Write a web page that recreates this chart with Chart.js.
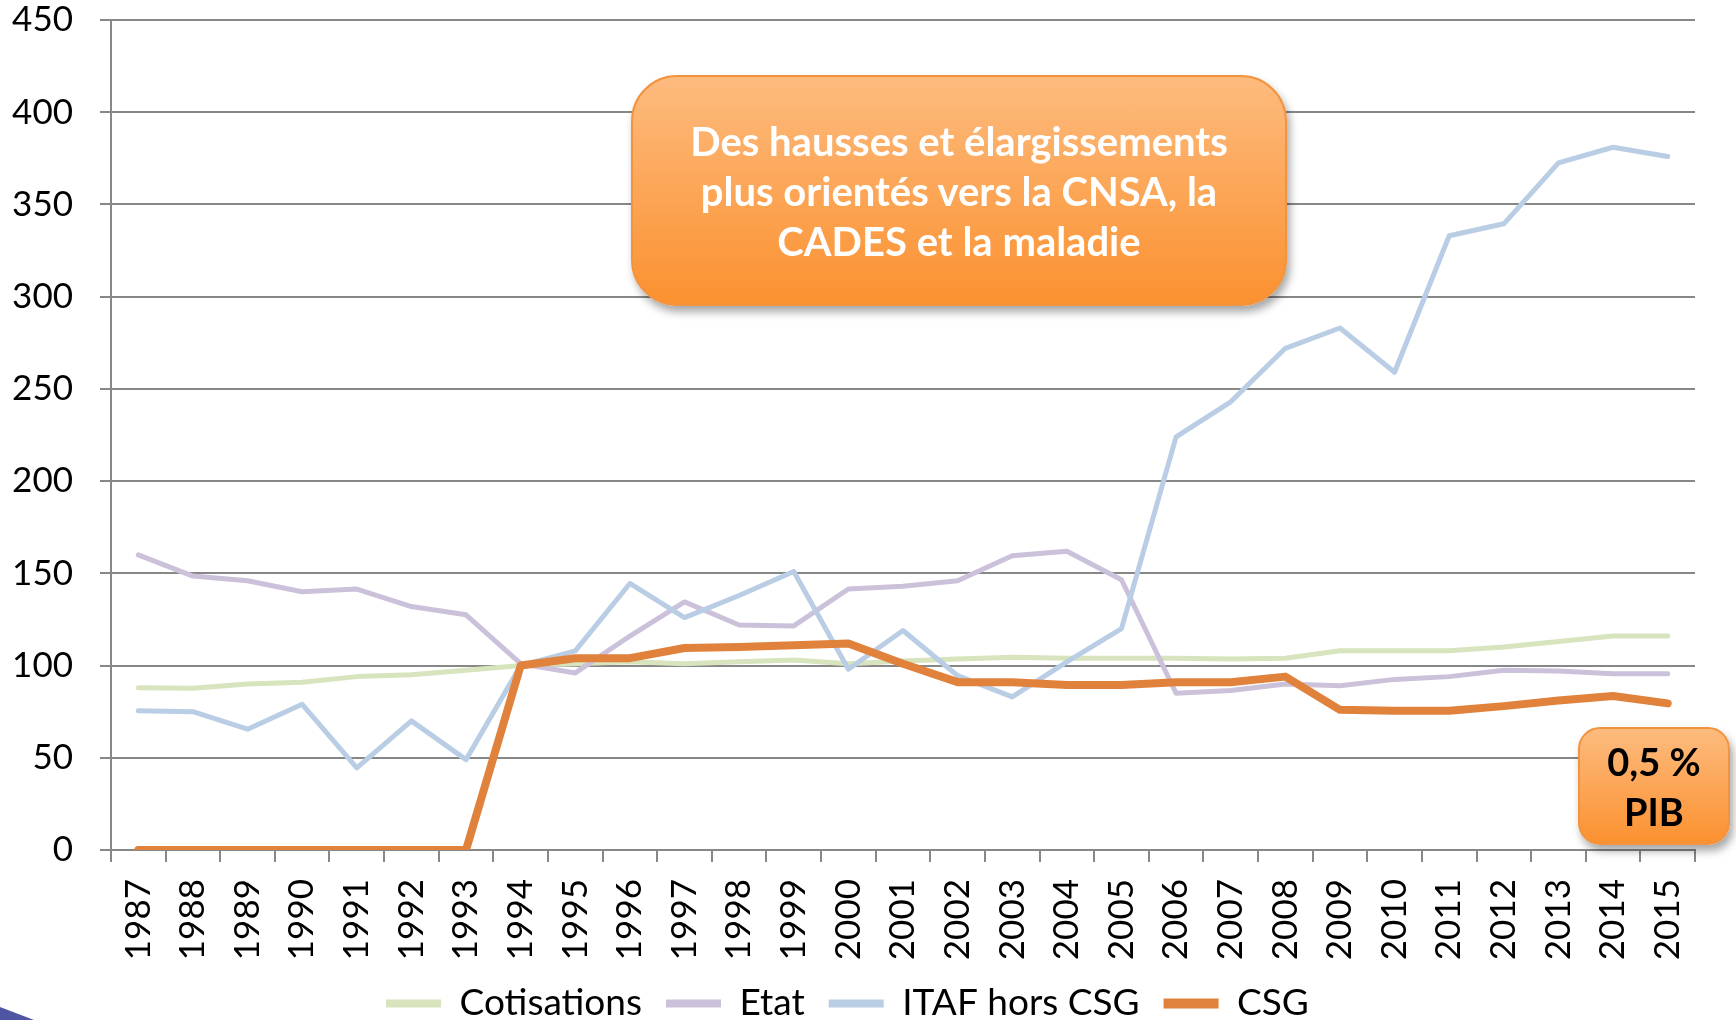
<!DOCTYPE html>
<html>
<head>
<meta charset="utf-8">
<script src="https://cdn.jsdelivr.net/npm/chart.js@4.4.1/dist/chart.umd.min.js"></script>
<style>
  body { margin: 0; background: #fff; }
  #wrap { position: relative; width: 1736px; height: 1020px; overflow: hidden; font-family: Lato, sans-serif; }
  .callout {
    position: absolute; box-sizing: border-box;
    border: 2px solid #f2943f;
    background: linear-gradient(#fdbb7e, #fb9130);
    box-shadow: 3px 6px 8px rgba(0,0,0,0.35);
    display: flex; align-items: center; justify-content: center;
    text-align: center; font-weight: 700;
  }
  #note { left: 631px; top: 75px; width: 656px; height: 231px; border-radius: 46px; color: #fff; font-size: 40px; line-height: 50px; }
  #pib { left: 1578px; top: 727px; width: 152px; height: 118px; border-radius: 22px; color: #000; font-size: 38px; line-height: 50px; }
  #corner { position: absolute; left: 0; top: 1007px; width: 34px; height: 13px; background: #4e56a3; clip-path: polygon(0 0, 100% 100%, 0 100%); }
</style>
</head>
<body>
<div id="wrap">
  <canvas id="chart" width="1736" height="1020"></canvas>
  <div id="note" class="callout">Des hausses et élargissements<br>plus orientés vers la CNSA, la<br>CADES et la maladie</div>
  <div id="pib" class="callout">0,5 %<br>PIB</div>
  <div id="corner"></div>
</div>
<script>
const years = ["1987", "1988", "1989", "1990", "1991", "1992", "1993", "1994", "1995", "1996",
  "1997", "1998", "1999", "2000", "2001", "2002", "2003", "2004", "2005", "2006",
  "2007", "2008", "2009", "2010", "2011", "2012", "2013", "2014", "2015"];

const cotisations = [88, 87.7, 90, 91, 94, 95, 97.5, 100, 101, 102, 101, 102, 103, 101,
  102.5, 103.5, 104.5, 104, 104, 104, 103.5, 104, 108, 108, 108, 110, 113, 116, 116];

const etat = [160, 148.5, 146, 140, 141.5, 132, 127.5, 101, 96, 116, 134.5, 122, 121.5, 141.5,
  143, 146, 159.5, 162, 146.5, 85, 86.5, 90, 89, 92.5, 94, 97.5, 97, 95.5, 95.5];

const itaf = [75.5, 75, 65.5, 79, 44.5, 70, 49, 100, 108, 144.5, 126, 138, 151, 98,
  119, 94.5, 83, 102, 120, 224, 243, 272, 283, 259, 333, 339.5, 372.5, 381, 376];

const csg = [0, 0, 0, 0, 0, 0, 0, 100, 104, 104, 109.5, 110, 111, 112,
  101, 91, 91, 89.5, 89.5, 91, 91, 94, 76, 75.5, 75.5, 78, 81, 83.5, 79.5];

const gridGray = "#878787";
const font = { family: "Lato, sans-serif", size: 35 };

const line = (label, data, color, width, order) => ({
  label: label,
  data: data,
  borderColor: color,
  backgroundColor: color,
  borderWidth: width,
  borderCapStyle: "round",
  borderJoinStyle: "round",
  pointRadius: 0,
  tension: 0,
  order: order,
});

new Chart(document.getElementById("chart"), {
  type: "line",
  data: {
    labels: years,
    datasets: [
      line("Cotisations", cotisations, "#d7e4bd", 5, 3),
      line("Etat", etat, "#ccc1da", 5, 2),
      line("ITAF hors CSG", itaf, "#b9cde5", 5, 1),
      line("CSG", csg, "#e0823c", 8, 0),
    ],
  },
  options: {
    responsive: false,
    animation: false,
    layout: { padding: { top: 20, right: 41, left: 0, bottom: -12 } },
    plugins: {
      tooltip: { enabled: false },
      legend: {
        position: "bottom",
        labels: {
          font: { family: "Lato, sans-serif", size: 37 },
          color: "#000",
          usePointStyle: true,
          pointStyle: "line",
          pointStyleWidth: 55,
          padding: 24,
          sort: (a, b) => a.datasetIndex - b.datasetIndex,
          generateLabels: (chart) =>
            Chart.defaults.plugins.legend.labels.generateLabels(chart).map((item) => {
              item.lineWidth = item.datasetIndex === 3 ? 10 : 8;
              return item;
            }),
        },
      },
    },
    scales: {
      x: {
        offset: true,
        grid: { offset: true, drawOnChartArea: false, color: gridGray, lineWidth: 2, tickLength: 12 },
        border: { color: gridGray, width: 2 },
        ticks: { font: font, color: "#000", minRotation: 90, maxRotation: 90, autoSkip: false, padding: 17 },
        afterFit: (scale) => { scale.height = 111; },
      },
      y: {
        min: 0,
        max: 450,
        grid: { color: gridGray, lineWidth: 2, tickLength: 11 },
        border: { color: gridGray, width: 2 },
        ticks: { font: font, color: "#000", stepSize: 50, padding: 27 },
        afterFit: (scale) => { scale.width = 111; scale.paddingTop = 0; scale.paddingBottom = 0; },
      },
    },
  },
});
</script>
</body>
</html>
